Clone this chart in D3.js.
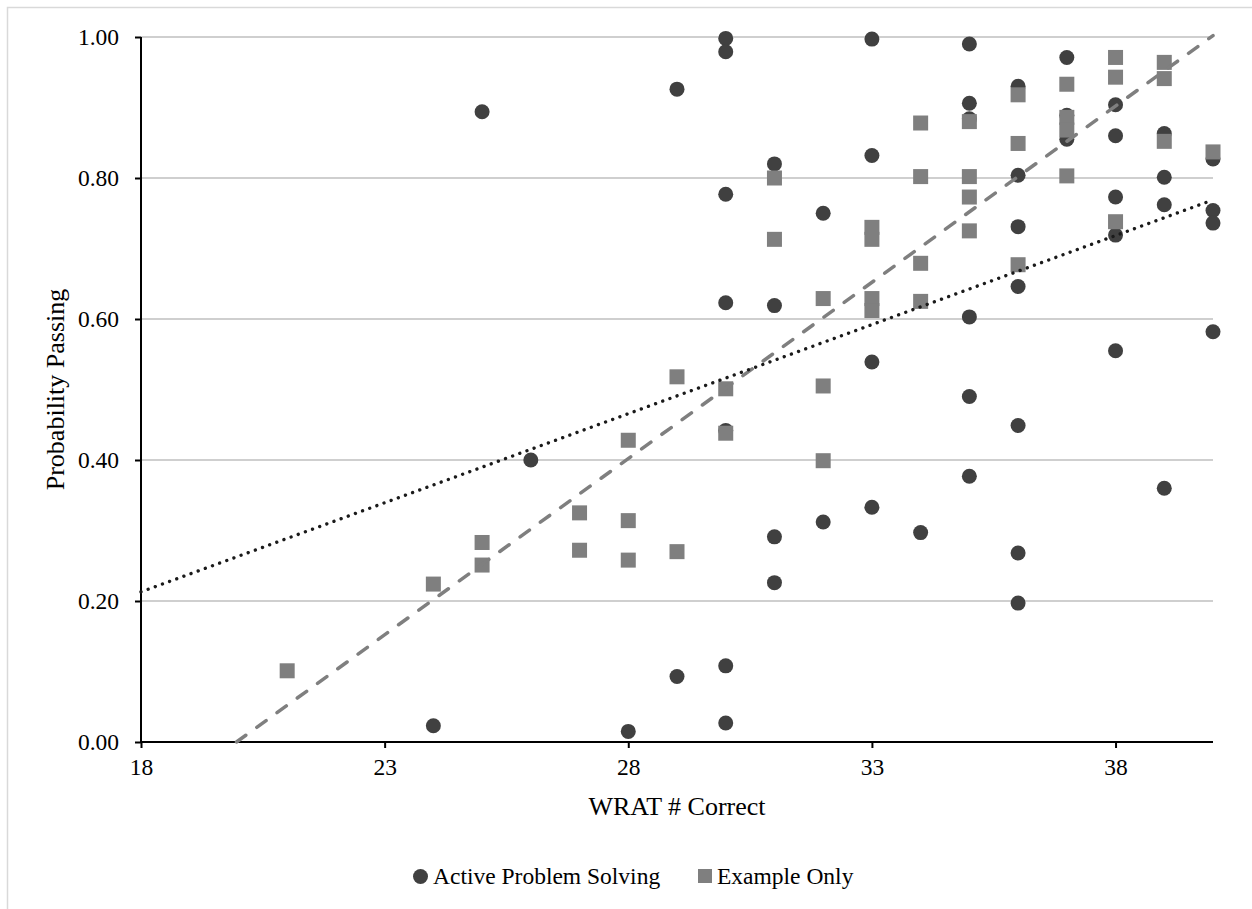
<!DOCTYPE html>
<html>
<head>
<meta charset="utf-8">
<script src="https://cdn.jsdelivr.net/npm/d3@7/dist/d3.min.js"></script>
<style>
    html, body { margin: 0; padding: 0; background: #fff; }
    svg { display: block; }
</style>
</head>
<body>
<div id="chart"></div>
<script>
// Active Problem Solving (circles)
const activeX = [24, 25, 26, 28, 29, 29,
    30, 30, 30, 30, 30, 30, 30,
    31, 31, 31, 31, 32, 32,
    33, 33, 33, 33, 34,
    35, 35, 35, 35, 35, 35,
    36, 36, 36, 36, 36, 36, 36,
    37, 37, 37, 38, 38, 38, 38, 38,
    39, 39, 39, 39, 40, 40, 40, 40];
const activeY = [0.023, 0.894, 0.400, 0.015, 0.926, 0.093,
    0.998, 0.979, 0.777, 0.623, 0.442, 0.108, 0.027,
    0.820, 0.619, 0.291, 0.226, 0.750, 0.312,
    0.997, 0.832, 0.539, 0.333, 0.297,
    0.990, 0.906, 0.884, 0.603, 0.490, 0.377,
    0.930, 0.804, 0.731, 0.646, 0.449, 0.268, 0.197,
    0.971, 0.889, 0.855, 0.904, 0.860, 0.773, 0.719, 0.555,
    0.863, 0.801, 0.762, 0.360, 0.827, 0.754, 0.736, 0.582];

// Example Only (squares)
const exampleX = [21, 24, 25, 25, 27, 27, 28, 28, 28, 29, 29,
    30, 30, 31, 31, 32, 32, 32,
    33, 33, 33, 33, 34, 34, 34, 34,
    35, 35, 35, 35, 36, 36, 36,
    37, 37, 37, 37, 38, 38, 38,
    39, 39, 39, 40];
const exampleY = [0.101, 0.224, 0.283, 0.251, 0.325, 0.272, 0.428, 0.314, 0.258, 0.518, 0.270,
    0.501, 0.438, 0.800, 0.713, 0.629, 0.505, 0.399,
    0.730, 0.713, 0.629, 0.612, 0.878, 0.802, 0.679, 0.625,
    0.880, 0.802, 0.773, 0.725, 0.918, 0.849, 0.677,
    0.933, 0.886, 0.868, 0.803, 0.971, 0.943, 0.738,
    0.964, 0.941, 0.852, 0.837];

// linear trendlines [slope, intercept]
const activeTrend = [0.02527, -0.2419];
const exampleTrend = [0.0500, -0.998];

const xTicks = [18, 23, 28, 33, 38];
const yTicks = [0, 0.2, 0.4, 0.6, 0.8, 1.0];
const seriesNames = ["Active Problem Solving", "Example Only"];

const W = 1252, H = 909;
const PLOT = {left: 141, right: 1213, top: 37, bottom: 742};
const DARK = "#404040", GREY = "#7f7f7f";
const FONT = "Liberation Serif";

const svg = d3.select("#chart").append("svg")
    .attr("width", W)
    .attr("height", H)
    .attr("font-family", FONT);

// chart border (runs off the right/bottom edges)
svg.append("rect")
    .attr("x", 7.5).attr("y", 7.5)
    .attr("width", W + 20).attr("height", H + 20)
    .attr("fill", "#fff")
    .attr("stroke", "#d9d9d9")
    .attr("stroke-width", 1.5);

const x = d3.scaleLinear().domain([18, 40]).range([PLOT.left, PLOT.right]);
const y = d3.scaleLinear().domain([0, 1]).range([PLOT.bottom, PLOT.top]);

// gridlines
svg.append("g").attr("id", "grid")
    .selectAll("line")
    .data(yTicks.filter(d => d > 0))
    .enter().append("line")
    .attr("x1", PLOT.left).attr("x2", PLOT.right)
    .attr("y1", d => y(d)).attr("y2", d => y(d))
    .attr("stroke", "#bfbfbf")
    .attr("stroke-width", 1.5);

// axes
const yAxis = svg.append("g")
    .attr("id", "Y Axis")
    .attr("transform", "translate(" + PLOT.left + ",0)")
    .call(d3.axisLeft(y).tickValues(yTicks).tickFormat(d3.format(".2f")).tickSize(6).tickPadding(16));

const xAxis = svg.append("g")
    .attr("id", "X Axis")
    .attr("transform", "translate(0," + PLOT.bottom + ")")
    .call(d3.axisBottom(x).tickValues(xTicks).tickSize(6).tickPadding(10));

[xAxis, yAxis].forEach(a => {
    a.attr("font-family", FONT).attr("font-size", 23.5);
    a.select(".domain").attr("stroke", "#000").attr("stroke-width", 2);
    a.selectAll(".tick line").attr("stroke", "#000").attr("stroke-width", 2);
    a.selectAll(".tick text").attr("fill", "#000").attr("font-family", FONT);
});
xAxis.select(".domain").attr("d", "M" + PLOT.left + ",0H" + PLOT.right);
yAxis.select(".domain").attr("d", "M0," + PLOT.bottom + "V" + PLOT.top);

// markers: circles then squares on top
svg.append("g").attr("id", "Active")
    .selectAll("circle")
    .data(activeX.map((d, i) => ({x: d, y: activeY[i]})))
    .enter().append("circle")
    .attr("cx", d => x(d.x))
    .attr("cy", d => y(d.y))
    .attr("r", 7.5)
    .attr("fill", DARK);

const SQ = 15;
svg.append("g").attr("id", "Example")
    .selectAll("rect")
    .data(exampleX.map((d, i) => ({x: d, y: exampleY[i]})))
    .enter().append("rect")
    .attr("x", d => x(d.x) - SQ / 2)
    .attr("y", d => y(d.y) - SQ / 2)
    .attr("width", SQ)
    .attr("height", SQ)
    .attr("fill", GREY);

// trendlines
const trendPts = (coef) => {
    const [m, b] = coef;
    const x0 = Math.max(18, -b / m); // clip at y = 0
    return [x0, 40].map(v => ({x: v, y: m * v + b}));
};
const line = d3.line().x(d => x(d.x)).y(d => y(d.y));

svg.append("path")
    .attr("id", "Example trend")
    .attr("d", line(trendPts(exampleTrend)))
    .attr("fill", "none")
    .attr("stroke", GREY)
    .attr("stroke-width", 3.5)
    .attr("stroke-linecap", "round")
    .attr("stroke-dasharray", "11.5 13.5");

svg.append("path")
    .attr("id", "Active trend")
    .attr("d", line(trendPts(activeTrend)))
    .attr("fill", "none")
    .attr("stroke", "#1a1a1a")
    .attr("stroke-width", 3.4)
    .attr("stroke-linecap", "round")
    .attr("stroke-dasharray", "0.01 7.6");

// axis titles
svg.append("text")
    .attr("x", (PLOT.left + PLOT.right) / 2)
    .attr("y", 815)
    .attr("text-anchor", "middle")
    .attr("font-family", FONT)
    .attr("font-size", 26)
    .text("WRAT # Correct");

svg.append("text")
    .attr("transform", "translate(64," + (PLOT.top + PLOT.bottom) / 2 + ") rotate(-90)")
    .attr("text-anchor", "middle")
    .attr("font-family", FONT)
    .attr("font-size", 26)
    .text("Probability Passing");

// legend
const legend = svg.append("g").attr("id", "Legend")
    .attr("font-family", FONT).attr("font-size", 23.5);
legend.append("circle")
    .attr("cx", 420.5).attr("cy", 876.5).attr("r", 7.5).attr("fill", DARK);
legend.append("text")
    .attr("x", 433).attr("y", 884)
    .text(seriesNames[0]);
legend.append("rect")
    .attr("x", 698).attr("y", 869).attr("width", 14).attr("height", 14).attr("fill", GREY);
legend.append("text")
    .attr("x", 717).attr("y", 884)
    .text(seriesNames[1]);
</script>
</body>
</html>
